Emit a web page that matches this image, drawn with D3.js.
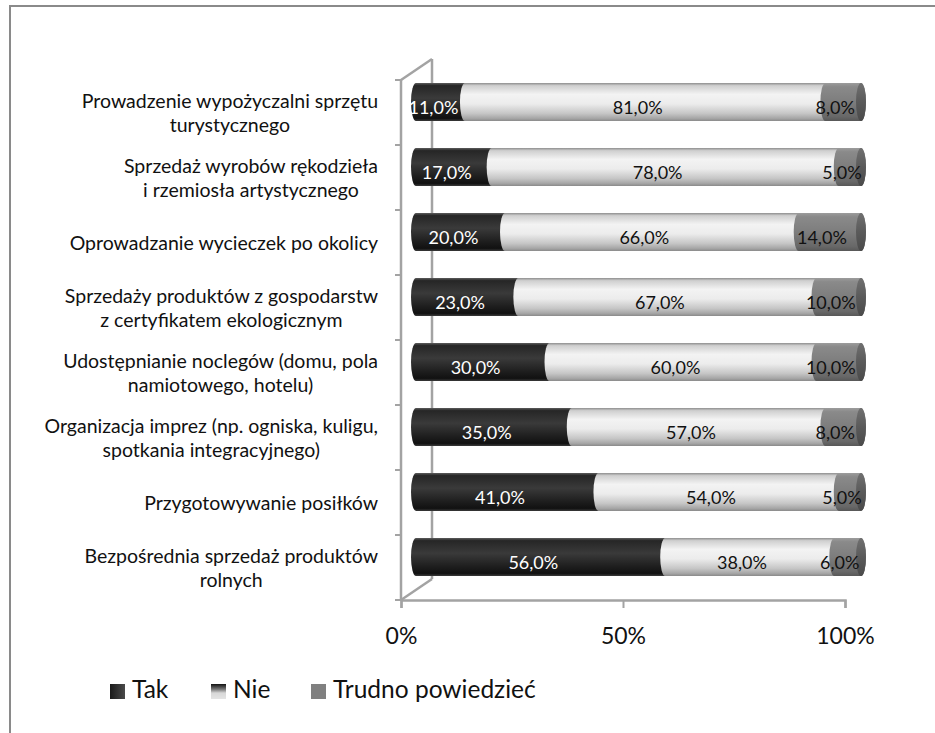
<!DOCTYPE html>
<html><head><meta charset="utf-8">
<script src="https://cdn.jsdelivr.net/npm/d3@7"></script>
<style>html,body{margin:0;padding:0;background:#fff;}svg{display:block;}</style>
</head><body>
<script>
const categories = [
  ["Prowadzenie wypożyczalni sprzętu", "turystycznego"],
  ["Sprzedaż wyrobów rękodzieła", "i rzemiosła artystycznego"],
  ["Oprowadzanie wycieczek po okolicy"],
  ["Sprzedaży produktów z gospodarstw", "z certyfikatem ekologicznym"],
  ["Udostępnianie noclegów (domu, pola", "namiotowego, hotelu)"],
  ["Organizacja imprez (np. ogniska, kuligu,", "spotkania integracyjnego)"],
  ["Przygotowywanie posiłków"],
  ["Bezpośrednia sprzedaż produktów", "rolnych"]
];
const seriesNames = ["Tak", "Nie", "Trudno powiedzieć"];
const tak    = [11, 17, 20, 23, 30, 35, 41, 56];
const nie    = [81, 78, 66, 67, 60, 57, 54, 38];
const trudno = [8, 5, 14, 10, 10, 8, 5, 6];
const tickValues = [0, 50, 100];
const tickLabels = ["0%", "50%", "100%"];

const W = 935, H = 733;
const FONT = "Lato, 'Open Sans', sans-serif";
const svg = d3.select("body").append("svg").attr("width", W).attr("height", H);
const defs = svg.append("defs");
function grad(id, stops, horiz) {
  const g = defs.append("linearGradient").attr("id", id)
    .attr("x1", 0).attr("y1", 0).attr("x2", horiz ? 1 : 0).attr("y2", horiz ? 0 : 1);
  stops.forEach(s => g.append("stop").attr("offset", s[0]).attr("stop-color", s[1]));
}
grad("gTak", [[0, "#5c5c5c"], [0.07, "#262626"], [0.4, "#3a3a3a"], [0.75, "#1e1e1e"], [0.93, "#111"], [1, "#3a3a3a"]]);
grad("gNie", [[0, "#8e8e8e"], [0.07, "#cfcfcf"], [0.3, "#f3f3f3"], [0.55, "#ececec"], [0.8, "#c6c6c6"], [0.93, "#a6a6a6"], [1, "#8a8a8a"]]);
grad("gTr", [[0, "#9c9c9c"], [0.1, "#8a8a8a"], [0.5, "#7d7d7d"], [0.88, "#686868"], [1, "#585858"]]);
grad("gCap", [[0, "#707070"], [0.5, "#5a5a5a"], [1, "#4a4a4a"]]);
grad("lgTak", [[0, "#1a1a1a"], [1, "#4a4a4a"]], true);
grad("lgNie", [[0, "#111"], [0.35, "#777"], [0.6, "#d8d8d8"], [1, "#e4e4e4"]]);

// outer frame
svg.append("rect").attr("x", 10).attr("y", 6).attr("width", W + 20).attr("height", H + 20)
  .attr("fill", "none").attr("stroke", "#8a8a8a").attr("stroke-width", 2);

// scales
const x = d3.scaleLinear().domain([0, 100]).range([401, 845]);
const y = d3.scaleBand().domain(d3.range(categories.length)).range([80, 600]).paddingInner(0).paddingOuter(0);
const depthX = 31, depthY = -21;
const barH = 38;
const barDx = 15, barDy = -10.5;
const rx = 5;

// 3D walls / axes
const wall = svg.append("g").attr("stroke", "#a3a3a3").attr("stroke-width", 2.5).attr("fill", "none");
wall.append("line").attr("x1", x(0) + depthX).attr("y1", 80 + depthY).attr("x2", x(0) + depthX).attr("y2", 600 + depthY);
wall.append("line").attr("x1", x(0)).attr("y1", 80).attr("x2", x(0) + depthX).attr("y2", 80 + depthY);
wall.append("line").attr("x1", x(0)).attr("y1", 600).attr("x2", x(0) + depthX).attr("y2", 600 + depthY);

// y axis (front edge) with ticks at band boundaries
const yAxisG = svg.append("g").attr("transform", `translate(${x(0)},0)`);
const yb = d3.range(categories.length + 1).map(i => 80 + i * y.step());
yAxisG.append("line").attr("x1", 0).attr("x2", 0).attr("y1", 80).attr("y2", 600).attr("stroke", "#a3a3a3").attr("stroke-width", 2.5);
yAxisG.selectAll("line.t").data(yb).join("line").attr("class", "t")
  .attr("x1", -6).attr("x2", 0).attr("y1", d => d).attr("y2", d => d).attr("stroke", "#a3a3a3").attr("stroke-width", 2);

// x axis
const xAxis = d3.axisBottom(x).tickValues(tickValues).tickFormat((d, i) => tickLabels[i]).tickSize(8).tickPadding(12);
const xg = svg.append("g").attr("transform", "translate(0,600)").call(xAxis);
xg.select(".domain").attr("stroke", "#a3a3a3").attr("stroke-width", 2.5);
xg.selectAll(".tick line").attr("stroke", "#a3a3a3").attr("stroke-width", 2);
xg.selectAll(".tick text").attr("font-family", FONT).attr("font-size", 23).attr("fill", "#111").attr("dy", "1.05em");

// bars
function segPath(xa, xb, yt, h) {
  return `M${xa},${yt}L${xb},${yt}A${rx},${h / 2} 0 0 1 ${xb},${yt + h}L${xa},${yt + h}A${rx},${h / 2} 0 0 1 ${xa},${yt}Z`;
}
const fills = ["url(#gTak)", "url(#gNie)", "url(#gTr)"];
const labelColors = ["#fff", "#111", "#111"];
const series = [tak, nie, trudno];
const bx = v => x(v) + barDx - (x(0) - 401) + rx;
const barScale = d3.scaleLinear().domain([0, 100]).range([x(0) + barDx, x(100) + barDx + 1]);
const barsG = svg.append("g");
categories.forEach((c, i) => {
  const yt = y(i) + y.bandwidth() / 2 + barDy - barH / 2;
  let cum = 0;
  series.forEach((s, k) => {
    const v = s[i];
    barsG.append("path").attr("d", segPath(barScale(cum), barScale(cum + v), yt, barH)).attr("fill", fills[k]);
    if (k === series.length - 1) {
      barsG.append("ellipse").attr("cx", barScale(cum + v)).attr("cy", yt + barH / 2)
        .attr("rx", rx).attr("ry", barH / 2).attr("fill", "url(#gCap)");
    }
    cum += v;
  });
  cum = 0;
  series.forEach((s, k) => {
    const v = s[i];
    barsG.append("text").attr("x", x(cum + v / 2) + 8).attr("y", y(i) + y.bandwidth() / 2 + 1)
      .attr("text-anchor", "middle").attr("font-family", FONT).attr("font-size", 18)
      .attr("fill", labelColors[k]).text(d3.format(".1f")(v).replace(".", ",") + "%");
    cum += v;
  });
});

// category labels
const catG = svg.append("g");
const lineH = 24;
categories.forEach((lines, i) => {
  const t = catG.append("text").attr("font-family", FONT).attr("font-size", 19.5).attr("fill", "#111").attr("text-anchor", "middle");
  const cy = y(i) + y.bandwidth() / 2;
  const n = lines.length;
  const spans = lines.map((l, j) => t.append("tspan").attr("y", cy + (j - (n - 1) / 2) * lineH + 7).text(l));
  const maxW = d3.max(spans, s => s.node().getComputedTextLength());
  spans.forEach(s => s.attr("x", 378 - maxW / 2));
});

// legend
const legendX = [110, 211, 311];
const legFills = ["url(#lgTak)", "url(#lgNie)", "#808080"];
const lg = svg.append("g");
seriesNames.forEach((n, k) => {
  lg.append("rect").attr("x", legendX[k]).attr("y", 684).attr("width", 15).attr("height", 15).attr("fill", legFills[k]);
  lg.append("text").attr("x", legendX[k] + 22).attr("y", 698).attr("font-family", FONT).attr("font-size", 24.5)
    .attr("fill", "#111").text(n);
});
</script>
</body></html>
